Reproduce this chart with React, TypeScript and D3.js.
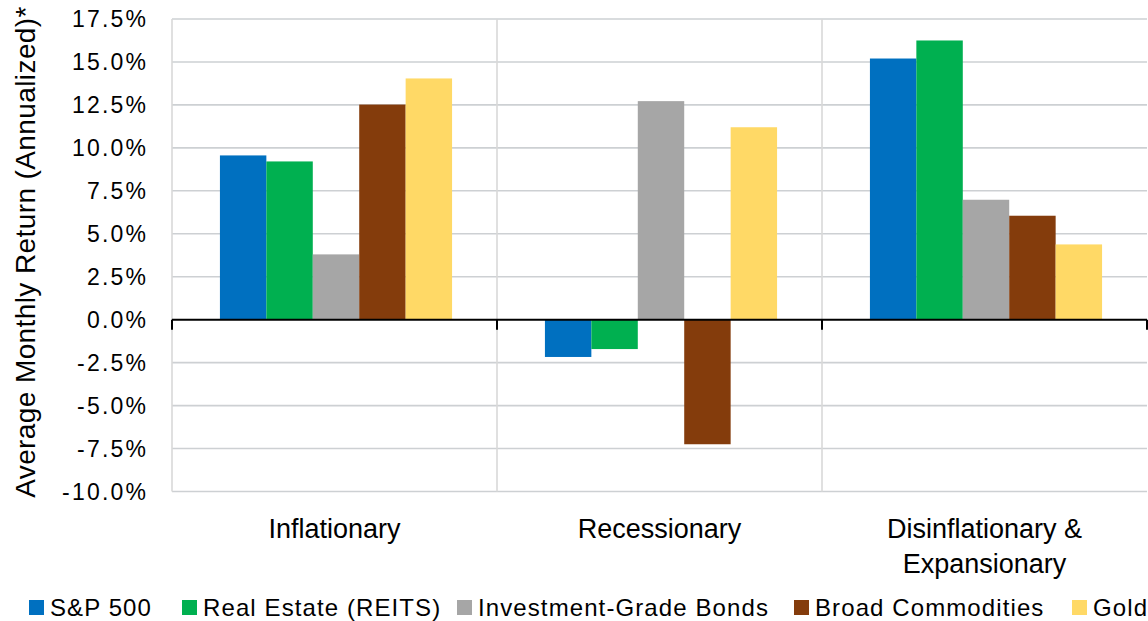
import React from "react";
import * as d3 from "d3";

const categories: string[][] = [["Inflationary"], ["Recessionary"], ["Disinflationary &", "Expansionary"]];
const seriesNames = ["S&P 500", "Real Estate (REITS)", "Investment-Grade Bonds", "Broad Commodities", "Gold"];
const seriesColors = ["#0070C0", "#00B050", "#A6A6A6", "#843C0C", "#FFD966"];
const sp500 = [9.56, -2.17, 15.2];
const realEstate = [9.21, -1.71, 16.25];
const igBonds = [3.8, 12.72, 6.98];
const commodities = [12.52, -7.25, 6.05];
const gold = [14.04, 11.2, 4.38];
const tickValues = [-10, -7.5, -5, -2.5, 0, 2.5, 5, 7.5, 10, 12.5, 15, 17.5];
const yTitle = "Average Monthly Return (Annualized)*";

const seriesValues = [sp500, realEstate, igBonds, commodities, gold];

const W = 1148;
const H = 621;
const left = 172;
const right = 1147;
const top = 19;
const bottom = 491.5;

const FONT = "'Liberation Sans', Arial, Helvetica, sans-serif";

const fmt = (t: number) => d3.format(".1f")(t).replace("\u2212", "-") + "%";

export default function App() {
  const catIdx = categories.map((_, i) => String(i));
  const x0 = d3.scaleBand<string>().domain(catIdx).range([left, right]).padding(0);
  const x1 = d3
    .scaleBand<string>()
    .domain(seriesNames)
    .range([0, x0.bandwidth()])
    .paddingInner(0)
    .paddingOuter(1);
  const y = d3.scaleLinear().domain([-10, 17.5]).range([bottom, top]);

  const legendX = [29, 182, 457, 794, 1072];

  return (
    <svg width={W} height={H} style={{ position: "absolute", left: 0, top: 0, background: "#fff" }}>
      {tickValues.map((t) =>
        t === 0 ? null : (
          <line key={"g" + t} x1={left} x2={right} y1={y(t)} y2={y(t)} stroke="#CDD0D3" strokeWidth={1.6} />
        )
      )}
      {catIdx.map((c) => (
        <line
          key={"v" + c}
          x1={x0(c)!}
          x2={x0(c)!}
          y1={top}
          y2={bottom}
          stroke="#D9D9D9"
          strokeWidth={1.6}
        />
      ))}
      {seriesNames.map((s, si) =>
        catIdx.map((c, ci) => {
          const v = seriesValues[si][ci];
          const bx = x0(c)! + x1(s)! + 1.5;
          const y0 = y(0);
          const yv = y(v);
          return (
            <rect
              key={s + c}
              x={bx}
              y={Math.min(y0, yv)}
              width={x1.bandwidth()}
              height={Math.abs(yv - y0)}
              fill={seriesColors[si]}
            />
          );
        })
      )}
      <line x1={left} x2={right} y1={y(0)} y2={y(0)} stroke="#000" strokeWidth={2} />
      {[...catIdx.map((c) => x0(c)!), right].map((xx, i) => (
        <line key={"t" + i} x1={xx} x2={xx} y1={y(0)} y2={y(0) + 10} stroke="#000" strokeWidth={2} />
      ))}
      {tickValues.map((t) => (
        <text
          key={"l" + t}
          x={146 + 2.2}
          y={y(t) + 8}
          textAnchor="end"
          fontFamily={FONT}
          fontSize={23}
          letterSpacing={2.2}
          fill="#000"
        >
          {fmt(t)}
        </text>
      ))}
      <text
        transform={`translate(35,${252}) rotate(-90)`}
        textAnchor="middle"
        fontFamily={FONT}
        fontSize={28}
        letterSpacing={0.4}
        fill="#000"
      >
        {yTitle}
      </text>
      {categories.map((lines, i) => (
        <text key={"c" + i} textAnchor="middle" fontFamily={FONT} fontSize={27} fill="#000">
          {lines.map((ln, j) => (
            <tspan key={j} x={x0(String(i))! + x0.bandwidth() / 2} y={538 + j * 35}>
              {ln}
            </tspan>
          ))}
        </text>
      ))}
      {seriesNames.map((s, i) => (
        <g key={"lg" + i}>
          <rect x={legendX[i]} y={600} width={15} height={15} fill={seriesColors[i]} />
          <text
            x={legendX[i] + 21}
            y={616}
            fontFamily={FONT}
            fontSize={24}
            letterSpacing={1.1}
            fill="#000"
          >
            {s}
          </text>
        </g>
      ))}
    </svg>
  );
}
